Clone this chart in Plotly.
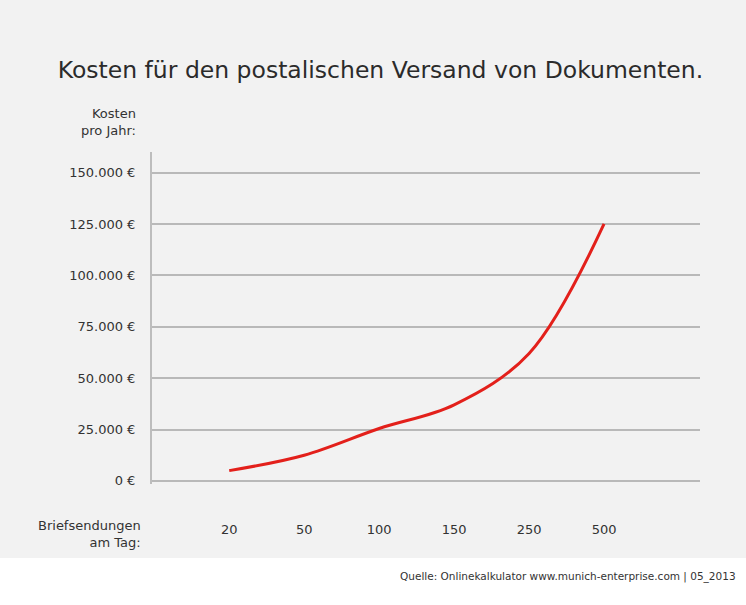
import plotly.graph_objects as go

categories = ["20", "50", "100", "150", "250", "500"]
kosten = [5000, 12500, 25500, 37000, 62000, 125000]
y_ticks = [0, 25000, 50000, 75000, 100000, 125000, 150000]
y_tick_labels = ["0 €", "25.000 €", "50.000 €", "75.000 €", "100.000 €", "125.000 €", "150.000 €"]

title = "Kosten für den postalischen Versand von Dokumenten."
source = "Quelle: Onlinekalkulator www.munich-enterprise.com | 05_2013"

idx = list(range(len(categories)))

fig = go.Figure()
fig.add_trace(go.Scatter(
    x=idx, y=kosten, mode="lines",
    line=dict(color="#e3201b", width=3, shape="spline", smoothing=1.0),
    hoverinfo="skip", showlegend=False,
))

font_family = "DejaVu Sans, Verdana, sans-serif"

fig.update_layout(
    width=746, height=605,
    margin=dict(l=152, r=46, t=152, b=121),
    paper_bgcolor="#f2f2f2", plot_bgcolor="#f2f2f2",
    font=dict(family=font_family, color="#333333", size=13),
    title=dict(text=title, x=0.51, xanchor="center", y=0.885, yanchor="middle",
               font=dict(size=23.5, color="#2b2b2b", family=font_family)),
    xaxis=dict(
        range=[-1.03, 6.28], tickmode="array", tickvals=idx, ticktext=categories,
        showgrid=False, zeroline=False, showline=False, ticks="",
        ticklabelstandoff=36, tickfont=dict(size=13, color="#333333"),
        fixedrange=True,
    ),
    yaxis=dict(
        range=[-1500, 160000], tickmode="array", tickvals=y_ticks, ticktext=y_tick_labels,
        showgrid=True, gridcolor="#b9b9b9", gridwidth=1.5,
        zeroline=False, showline=True, linecolor="#bdbdbd", linewidth=2,
        ticks="", ticklabelstandoff=12, tickfont=dict(size=13, color="#333333"),
        fixedrange=True,
    ),
    shapes=[
        dict(type="rect", xref="paper", yref="paper", x0=-0.4, x1=1.2, y0=-0.40, y1=-0.223,
             fillcolor="white", line=dict(width=0), layer="below"),
    ],
    annotations=[
        dict(text="Kosten<br>pro Jahr:", xref="paper", yref="paper", x=-0.025, y=1.035,
             xanchor="right", yanchor="bottom", align="right", showarrow=False,
             font=dict(size=13, color="#333333")),
        dict(text="Briefsendungen<br>am Tag:", xref="paper", yref="paper", x=-0.016, y=-0.15,
             xanchor="right", yanchor="middle", align="right", showarrow=False,
             font=dict(size=13, color="#333333")),
        dict(text=source, xref="paper", yref="paper", x=1.069, y=-0.28,
             xanchor="right", yanchor="middle", showarrow=False,
             font=dict(size=10.5, color="#333333")),
    ],
)

fig.write_html("out.html", config={"displayModeBar": False},
               post_script="document.body.style.margin='0';")
